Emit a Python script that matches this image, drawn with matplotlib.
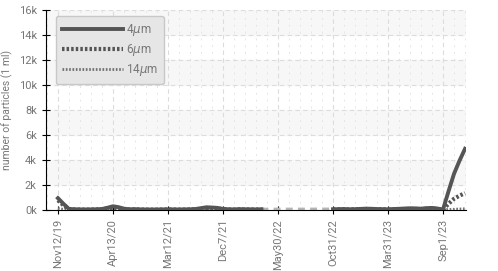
import numpy as np
import matplotlib.pyplot as plt
from matplotlib.ticker import MultipleLocator, FuncFormatter

plt.rcParams['font.family'] = ['Roboto', 'DejaVu Sans']

# Подписи дат (каждая 10-я точка)
date_labels = ['Nov12/19', 'Apr13/20', 'Mar12/21', 'Dec7/21',
               'May30/22', 'Oct31/22', 'Mar31/23', 'Sep1/23']

nan = np.nan
# 4 мкм
p4 = [950, 500, 90, 60, 50, 45, 50, 60, 80, 180,
      300, 230, 110, 60, 70, 50, 45, 40, 45, 50,
      55, 50, 45, 50, 60, 80, 150, 220, 200, 170,
      90, 60, 50, 70, 60, 55, 50, 60, nan, nan,
      nan, nan, nan, nan, nan, nan, nan, nan, nan, nan,
      60, 70, 80, 60, 70, 90, 110, 100, 80, 70,
      60, 80, 100, 120, 140, 130, 110, 150, 170, 120,
      40, 1500, 2900, 3950, 4900]
# 6 мкм
p6 = [780, 380, 70, 40, 35, 30, 35, 40, 60, 120,
      200, 150, 80, 40, 45, 35, 30, 30, 30, 35,
      40, 35, 30, 35, 40, 55, 100, 150, 140, 120,
      60, 40, 35, 50, 40, 40, 35, 40, nan, nan,
      nan, nan, nan, nan, nan, nan, nan, nan, nan, nan,
      40, 50, 55, 40, 50, 60, 80, 70, 55, 50,
      40, 55, 70, 80, 90, 85, 75, 100, 110, 80,
      30, 500, 900, 1150, 1350]
# 14 мкм
p14 = [120, 60, 20, 15, 10, 10, 10, 15, 20, 30,
       50, 40, 20, 10, 10, 10, 10, 10, 10, 10,
       10, 10, 10, 10, 10, 15, 30, 40, 35, 30,
       15, 10, 10, 15, 10, 10, 10, 10, nan, nan,
       nan, nan, nan, nan, nan, nan, nan, nan, nan, nan,
       10, 15, 15, 10, 15, 15, 20, 20, 15, 15,
       10, 15, 20, 20, 25, 25, 20, 25, 30, 20,
       10, 40, 60, 80, 100]
# Пропуск данных (светлый пунктир)
gap_x = [37, 50]
gap_y = [50, 60]

x = np.arange(len(p4))

fig = plt.figure(figsize=(4.98, 2.71), dpi=100)
ax = fig.add_axes([0.092, 0.225, 0.844, 0.738])

# Полосы фона
for lo in range(2000, 16000, 4000):
    ax.axhspan(lo, lo + 2000, color='#f7f7f7', zorder=0)

ax.plot(gap_x, gap_y, color='#b5b5b5', lw=2.5, ls=(0, (2, 1.5)), zorder=2)
ax.plot(x, p14, color='#707070', lw=2, ls=(0, (0.6, 0.6)), zorder=3, label=r'14$\mu$m')
ax.plot(x, p6, color='#555555', lw=3, ls=(0, (0.6, 0.5)), zorder=4, label=r'6$\mu$m')
ax.plot(x, p4, color='#555555', lw=2.8, zorder=5, label=r'4$\mu$m')

ax.set_xlim(-2.2, 74.2)
ax.set_ylim(0, 16000)
ax.xaxis.set_minor_locator(MultipleLocator(2))
ax.yaxis.set_major_locator(MultipleLocator(2000))
ax.set_xticks(np.arange(0, 80, 10), date_labels, rotation=90)
ax.yaxis.set_major_formatter(FuncFormatter(lambda v, p: '%dk' % (v / 1000)))

ax.grid(True, which='major', color='#dcdcdc', ls=(0, (4, 3)), lw=0.8)
ax.grid(True, which='minor', axis='x', color='#e6e6e6', ls=(0, (2, 5)), lw=0.7)
ax.set_axisbelow(True)

for s in ['top', 'right']:
    ax.spines[s].set_visible(False)
ax.spines['left'].set_color('black')
ax.spines['bottom'].set_color('black')
ax.tick_params(axis='both', which='major', direction='inout', length=6,
               colors='#777777', labelsize=8)
ax.tick_params(axis='both', which='both', color='black')
ax.tick_params(axis='x', which='minor', length=0)

ax.set_ylabel('number of particles (1 ml)', color='#777777', fontsize=7.5, labelpad=4)

h, l = ax.get_legend_handles_labels()
leg = ax.legend(h[::-1], l[::-1], loc='upper left', bbox_to_anchor=(0.01, 1.0),
                handlelength=5.2, handletextpad=0.2, labelspacing=0.35,
                fontsize=8.5, fancybox=True, facecolor='#e6e6e6',
                edgecolor='#c8c8c8', framealpha=1, borderpad=0.5)
for t in leg.get_texts():
    t.set_color('#777777')

fig.savefig('out.png', dpi=100)
